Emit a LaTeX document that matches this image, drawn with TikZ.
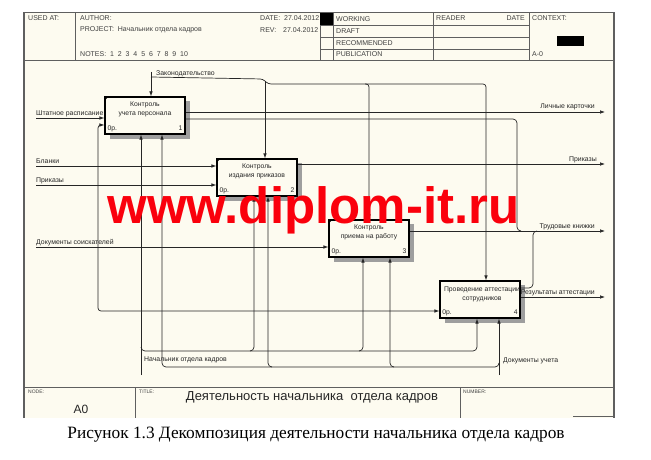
\documentclass[tikz,border=0pt]{standalone}
\usepackage{fontspec}
\setmainfont{Liberation Sans}
\newfontfamily\capfont{Liberation Serif}
\usetikzlibrary{arrows.meta}
\definecolor{cream}{RGB}{253,251,240}
\definecolor{framec}{RGB}{95,95,95}
\definecolor{wmred}{RGB}{250,0,12}
\begin{document}
\begin{tikzpicture}[x=1pt,y=-1pt,
  lbl/.style={font=\fontsize{6.9}{7}\selectfont, inner sep=0pt, text=black!85},
  hdr/.style={font=\fontsize{7}{7}\selectfont, inner sep=0pt, anchor=west, text=black!75},
  flow/.style={draw=black!85, line width=0.7pt},
  arr/.style={flow, -{Latex[length=5pt,width=3.6pt]}},
  boxst/.style={draw=black, line width=1.2pt, fill=cream, minimum width=80pt, minimum height=37pt, inner sep=0pt},
  shadowst/.style={fill=black!38},
  btext/.style={font=\fontsize{6.8}{8.5}\selectfont, align=center, inner sep=0pt, anchor=north, text=black!85},
  bnum/.style={font=\fontsize{6.8}{7}\selectfont, inner sep=0pt, text=black!85},
  gridl/.style={draw=framec, line width=0.7pt},
  framel/.style={draw=framec, line width=1.1pt}
]
\useasboundingbox (0,0) rectangle (651,460);
\fill[white] (0,0) rectangle (651,460);
\fill[cream] (24,12.5) rectangle (614,418);

% ---------- header ----------
\draw[framel] (24,418) -- (24,12.5) -- (614,12.5) -- (614,418);
\draw[gridl] (24,60.5) -- (614,60.5);
\draw[gridl] (75,12.5) -- (75,60.5);
\draw[gridl] (320,12.5) -- (320,60.5);
\draw[gridl] (333,12.5) -- (333,60.5);
\draw[gridl] (433,12.5) -- (433,60.5);
\draw[gridl] (529,12.5) -- (529,60.5);
\foreach \yy in {25.5,37.5,49} \draw[gridl] (320,\yy) -- (529,\yy);
\fill[black] (320,13) rectangle (333,25.5);
\fill[black] (557,36) rectangle (584,46);

\node[hdr] (husd) at (28,18.5) {USED AT:};
\node[hdr] (haut) at (80,18.5) {AUTHOR:};
\node[hdr] (hpro) at (80,30) {PROJECT:~~Начальник отдела кадров};
\node[hdr] (hnot) at (80,54.5) {NOTES:~~1~~2~~3~~4~~5~~6~~7~~8~~9~~10};
\node[hdr] (hdat) at (260,18.5) {DATE:~~27.04.2012};
\node[hdr] (hrev) at (260,30) {REV:};
\node[hdr] (hrevd) at (283,30) {27.04.2012};
\node[hdr] (hwor) at (336,19.5) {WORKING};
\node[hdr] (hdra) at (336,31.5) {DRAFT};
\node[hdr] (hrec) at (336,43.5) {RECOMMENDED};
\node[hdr] (hpub) at (336,54.5) {PUBLICATION};
\node[hdr] (hrea) at (436,18.5) {READER};
\node[hdr, anchor=east] (hdat2) at (525,18.5) {DATE};
\node[hdr] (hcon) at (532,18.5) {CONTEXT:};
\node[hdr] (ha0) at (532,54.5) {A-0};

% ---------- footer ----------
\draw[gridl] (24,387) -- (614,387);
\draw[gridl] (135,387) -- (135,418);
\draw[gridl] (460,387) -- (460,418);
\draw[gridl] (573,416) -- (614,416);
\node[hdr, font=\fontsize{5}{6}\selectfont] (fnode) at (28,392) {NODE:};
\node[hdr, font=\fontsize{5}{6}\selectfont] (ftit) at (139,392) {TITLE:};
\node[hdr, font=\fontsize{5}{6}\selectfont] (fnum) at (463,392) {NUMBER:};
\node[inner sep=0pt, font=\fontsize{12}{13}\selectfont, text=black!85] (fa0) at (81,409) {A0};
\node[inner sep=0pt, font=\fontsize{13}{14}\selectfont, text=black!85] (ftitle) at (312,397) {Деятельность начальника~~отдела кадров};
\node[inner sep=0pt, font=\capfont\fontsize{17.3}{19}\selectfont] (cap) at (316,435) {Рисунок 1.3 Декомпозиция деятельности начальника отдела кадров};

% ---------- shadows ----------
\fill[shadowst] (110,101) rectangle (190,139);
\fill[shadowst] (222,163) rectangle (302,201);
\fill[shadowst] (334,224) rectangle (414,262);
\fill[shadowst] (445,285) rectangle (525,323);

% ---------- free ends and branch points ----------
\coordinate (in1) at (36,118);
\coordinate (in2) at (36,166);
\coordinate (in3) at (36,185);
\coordinate (in4) at (36,247);
\coordinate (c1) at (151,72);
\coordinate (m1) at (141,375);
\coordinate (m2) at (499,375);
\coordinate (o1) at (605,112);
\coordinate (o2) at (605,164);
\coordinate (o3) at (605,231);
\coordinate (o4) at (605,297);
\coordinate (jP) at (98,185);
\coordinate (r1) at (98,125);
\coordinate (r4) at (98,311);
\coordinate (z0) at (151,77);
\coordinate (z1) at (263,79);
\coordinate (z2) at (268,84);
\coordinate (z3) at (486,84);
\coordinate (zb2) at (265,81);
\coordinate (zb3) at (369,84);
\coordinate (k1) at (517,119);
\coordinate (k4) at (533,288);
\coordinate (n1) at (141,351);
\coordinate (n2) at (254,351);
\coordinate (n3) at (363,351);
\coordinate (n4) at (477,351);
\coordinate (d1) at (162,367);
\coordinate (d2) at (268,367);
\coordinate (d3) at (390,367);
\coordinate (d4) at (499,367);

% box anchors (boxes are drawn on top of the connectors further below)
\path (145,115.5) coordinate (b1c) (257,177.5) coordinate (b2c) (369,238.5) coordinate (b3c) (480,299.5) coordinate (b4c);
\path (b1c) node[boxst, draw=none, fill=none] (b1) {}
      (b2c) node[boxst, draw=none, fill=none] (b2) {}
      (b3c) node[boxst, draw=none, fill=none] (b3) {}
      (b4c) node[boxst, draw=none, fill=none] (b4) {};

% ---------- connectors ----------
% inputs
\draw[arr] (in1) -- (b1.west |- in1);
\draw[arr] (in2) -- (b2.west |- in2);
\draw[arr] (in3) -- (b2.west |- in3);
\draw[arr] (in4) -- (b3.west |- in4);
\draw[arr, rounded corners=3] (jP) |- (b1.west |- r1);
\draw[arr, rounded corners=3] (jP) |- (b4.west |- r4);
% controls
\draw[arr] (c1) -- (c1 |- b1.north);
\draw[arr, rounded corners=3] (z0) -- (z1) -- (z2) -| (b4.north -| z3);
\draw[arr] (zb2) -- (b2.north -| zb2);
\draw[arr, rounded corners=3] ([xshift=-4pt]zb3) -| (b3.north -| zb3);
% outputs
\draw[arr] (b1.east |- o1) -- (o1);
\draw[arr] (b2.east |- o2) -- (o2);
\draw[arr] (b3.east |- o3) -- (o3);
\draw[arr] (b4.east |- o4) -- (o4);
\draw[flow, rounded corners=4] (b1.east |- k1) -| (k1 |- o3) -- ([xshift=4pt]k1 |- o3);
\draw[flow, rounded corners=4] (b4.east |- k4) -| (k4 |- o3) -- ([xshift=4pt]k4 |- o3);
% mechanisms
\draw[arr] (m1) -- (m1 |- b1.south);
\draw[arr, rounded corners=4] ([yshift=4pt]n1) |- (n4) -- (n4 |- b4.south);
\draw[arr, rounded corners=4] ([xshift=-4pt]n2) -- (n2) -- (n2 |- b2.south);
\draw[arr, rounded corners=4] ([xshift=-4pt]n3) -- (n3) -- (n3 |- b3.south);
\draw[arr] (m2) -- (m2 |- b4.south);
\draw[arr, rounded corners=4] ([yshift=4pt]d4) |- (d1) -- (d1 |- b1.south);
\draw[arr, rounded corners=4] ([xshift=4pt]d2) -- (d2) -- (d2 |- b2.south);
\draw[arr, rounded corners=4] ([xshift=4pt]d3) -- (d3) -- (d3 |- b3.south);

% ---------- labels ----------
\node[lbl, anchor=base west] (lin1) at ([yshift=2.5pt]in1) {Штатное расписание};
\node[lbl, anchor=base west] (lin2) at ([yshift=2.5pt]in2) {Бланки};
\node[lbl, anchor=base west] (lin3) at ([yshift=2.5pt]in3) {Приказы};
\node[lbl, anchor=base west] (lin4) at ([yshift=2.5pt]in4) {Документы соискателей};
\node[lbl, anchor=base west] (lc1) at (156,76) {Законодательство};
\node[lbl, anchor=base east] (lo1) at (595,109) {Личные карточки};
\node[lbl, anchor=base east] (lo2) at (597,161) {Приказы};
\node[lbl, anchor=base east] (lo3) at (595,228) {Трудовые книжки};
\node[lbl, anchor=base east] (lo4) at (595,294.5) {Результаты аттестации};
\node[lbl, anchor=base west] (lm1) at (144,361.5) {Начальник отдела кадров};
\node[lbl, anchor=base west] (lm2) at (503,362) {Документы учета};

% ---------- boxes ----------
\node[boxst] (B1) at (b1c) {};
\node[boxst] (B2) at (b2c) {};
\node[boxst] (B3) at (b3c) {};
\node[boxst, line width=1.6pt] (B4) at (b4c) {};
\foreach \bb in {B1,B2,B3}
  \draw[black, line width=0.6pt] ([yshift=-4pt]\bb.north west) -- ([xshift=4pt]\bb.north west);
\node[btext] (t1) at ([yshift=-5.5pt]B1.north) {Контроль\\учета персонала};
\node[btext] (t2) at ([yshift=-5.5pt]B2.north) {Контроль\\издания приказов};
\node[btext] (t3) at ([yshift=-5.5pt]B3.north) {Контроль\\приема на работу};
\node[btext] (t4) at ([xshift=2pt,yshift=-6.5pt]B4.north) {Проведение аттестации\\сотрудников};
\foreach \bb/\nn in {B1/1,B2/2,B3/3,B4/4}{
  \node[bnum, anchor=base west] (p\nn) at ([shift={(3pt,4pt)}]\bb.south west) {0р.};
  \node[bnum, anchor=base east] (q\nn) at ([shift={(-3pt,4pt)}]\bb.south east) {\nn};
}

% ---------- watermark ----------
\node[inner sep=0pt, anchor=base, text=wmred, font=\fontsize{51}{51}\selectfont\bfseries] (wm) at (313.5,223) {www.diplom-it.ru};
\end{tikzpicture}
\end{document}
